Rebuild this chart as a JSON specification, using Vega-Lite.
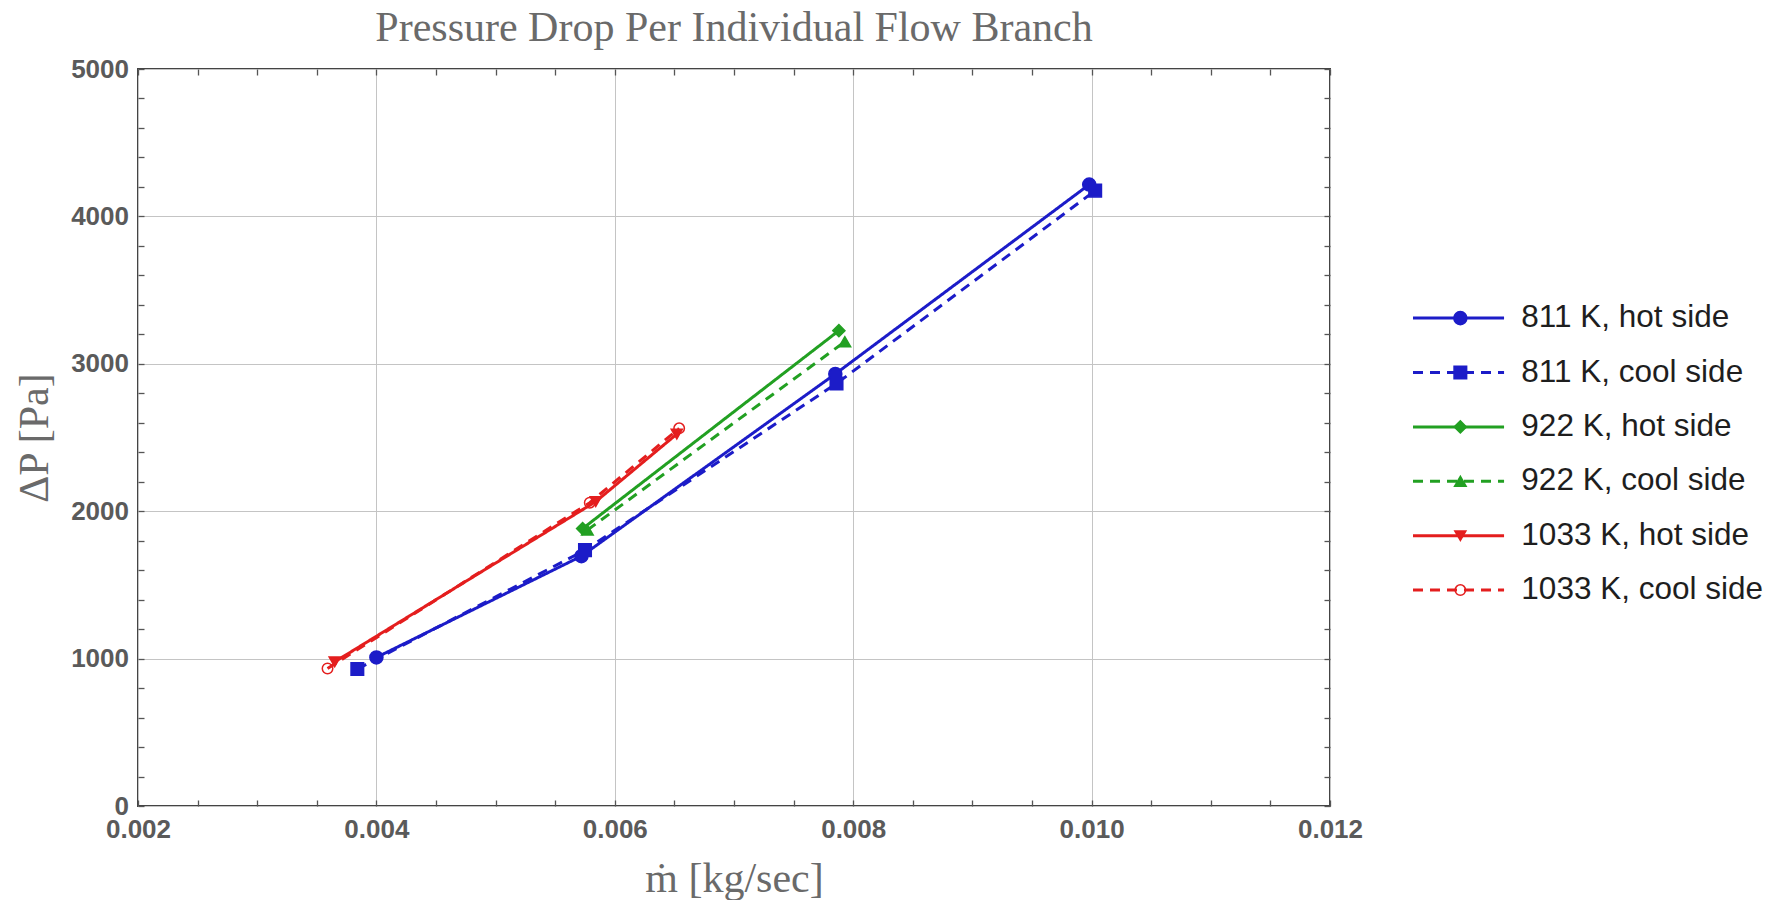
{
  "$schema": "https://vega.github.io/schema/vega-lite/v6.json",
  "background": "white",
  "padding": {"left": 12, "top": 6, "right": 5, "bottom": 0},
  "autosize": {"type": "pad"},
  "config": {"view": {"stroke": "#444444", "strokeWidth": 2}},
  "datasets": {
    "pts": [
      {"series": "811 K, hot side", "m": 0.00400, "dp": 1008},
      {"series": "811 K, hot side", "m": 0.00572, "dp": 1695},
      {"series": "811 K, hot side", "m": 0.00785, "dp": 2931},
      {"series": "811 K, hot side", "m": 0.00998, "dp": 4216},
      {"series": "811 K, cool side", "m": 0.00384, "dp": 929},
      {"series": "811 K, cool side", "m": 0.00575, "dp": 1736},
      {"series": "811 K, cool side", "m": 0.00786, "dp": 2866},
      {"series": "811 K, cool side", "m": 0.01003, "dp": 4175},
      {"series": "922 K, hot side", "m": 0.00573, "dp": 1882},
      {"series": "922 K, hot side", "m": 0.00788, "dp": 3225},
      {"series": "922 K, cool side", "m": 0.00577, "dp": 1872},
      {"series": "922 K, cool side", "m": 0.00793, "dp": 3150},
      {"series": "1033 K, hot side", "m": 0.00365, "dp": 978},
      {"series": "1033 K, hot side", "m": 0.00584, "dp": 2065},
      {"series": "1033 K, hot side", "m": 0.00652, "dp": 2523},
      {"series": "1033 K, cool side", "m": 0.00359, "dp": 933},
      {"series": "1033 K, cool side", "m": 0.00579, "dp": 2058},
      {"series": "1033 K, cool side", "m": 0.00654, "dp": 2562}
    ],
    "leg": [
      {"series": "811 K, hot side", "order": 1},
      {"series": "811 K, cool side", "order": 2},
      {"series": "922 K, hot side", "order": 3},
      {"series": "922 K, cool side", "order": 4},
      {"series": "1033 K, hot side", "order": 5},
      {"series": "1033 K, cool side", "order": 6}
    ]
  },
  "spacing": 83,
  "bounds": "flush",
  "hconcat": [
    {
      "width": 1192,
      "height": 737,
      "title": {"text": "Pressure Drop Per Individual Flow Branch", "font": "Liberation Serif", "fontSize": 42, "fontWeight": "normal", "color": "#6a6a6a", "anchor": "middle", "offset": 6},
      "data": {"name": "pts"},
      "resolve": {"axis": {"x": "independent", "y": "independent"}},
      "layer": [
        {
          "mark": {"type": "line", "strokeWidth": 3},
          "encoding": {
            "x": {"field": "m", "type": "quantitative", "scale": {"domain": [0.002, 0.012], "nice": false, "zero": false},
              "axis": {"orient": "bottom", "values": [0.002, 0.004, 0.006, 0.008, 0.010, 0.012], "format": ".3f", "grid": true, "gridColor": "#c4c4c4", "gridWidth": 1, "ticks": false, "domain": false, "labelFont": "Liberation Sans", "labelFontSize": 26, "labelFontWeight": "bold", "labelColor": "#5a5a5a", "labelPadding": 10, "labelFlush": false, "labelOverlap": false, "title": "ṁ [kg/sec]", "titleFont": "Liberation Serif", "titleFontSize": 42, "titleFontWeight": "normal", "titleColor": "#6a6a6a", "titlePadding": 16}},
            "y": {"field": "dp", "type": "quantitative", "scale": {"domain": [0, 5000], "nice": false},
              "axis": {"orient": "left", "values": [0, 1000, 2000, 3000, 4000, 5000], "format": "d", "grid": true, "gridColor": "#c4c4c4", "gridWidth": 1, "ticks": false, "domain": false, "labelFont": "Liberation Sans", "labelFontSize": 26, "labelFontWeight": "bold", "labelColor": "#5a5a5a", "labelPadding": 9.5, "labelFlush": false, "labelOverlap": false, "title": "ΔP [Pa]", "titleFont": "Liberation Serif", "titleFontSize": 42, "titleFontWeight": "normal", "titleColor": "#6a6a6a", "titlePadding": 14}},
            "color": {"field": "series", "type": "nominal", "legend": null,
              "scale": {"domain": ["811 K, hot side", "811 K, cool side", "922 K, hot side", "922 K, cool side", "1033 K, hot side", "1033 K, cool side"], "range": ["#1c1cc8", "#1c1cc8", "#22a022", "#22a022", "#e41e1e", "#e41e1e"]}},
            "strokeDash": {"field": "series", "type": "nominal", "legend": null,
              "scale": {"domain": ["811 K, hot side", "811 K, cool side", "922 K, hot side", "922 K, cool side", "1033 K, hot side", "1033 K, cool side"], "range": [[1, 0], [10, 7], [1, 0], [10, 7], [1, 0], [10, 7]]}}
          }
        },
        {
          "mark": {"type": "point", "filled": true, "strokeWidth": 1.5, "opacity": 1},
          "encoding": {
            "x": {"field": "m", "type": "quantitative",
              "axis": {"orient": "bottom", "values": [0.002, 0.0025, 0.003, 0.0035, 0.004, 0.0045, 0.005, 0.0055, 0.006, 0.0065, 0.007, 0.0075, 0.008, 0.0085, 0.009, 0.0095, 0.010, 0.0105, 0.011, 0.0115, 0.012], "labels": false, "grid": false, "domain": false, "ticks": true, "tickSize": -6, "tickColor": "#555555", "tickWidth": 1.3, "title": null}},
            "y": {"field": "dp", "type": "quantitative",
              "axis": {"orient": "left", "values": [0, 200, 400, 600, 800, 1000, 1200, 1400, 1600, 1800, 2000, 2200, 2400, 2600, 2800, 3000, 3200, 3400, 3600, 3800, 4000, 4200, 4400, 4600, 4800, 5000], "labels": false, "grid": false, "domain": false, "ticks": true, "tickSize": -6, "tickColor": "#555555", "tickWidth": 1.3, "title": null}},
            "shape": {"field": "series", "type": "nominal", "legend": null,
              "scale": {"domain": ["811 K, hot side", "811 K, cool side", "922 K, hot side", "922 K, cool side", "1033 K, hot side", "1033 K, cool side"], "range": ["circle", "square", "diamond", "triangle-up", "triangle-down", "circle"]}},
            "fill": {"field": "series", "type": "nominal", "legend": null,
              "scale": {"domain": ["811 K, hot side", "811 K, cool side", "922 K, hot side", "922 K, cool side", "1033 K, hot side", "1033 K, cool side"], "range": ["#1c1cc8", "#1c1cc8", "#22a022", "#22a022", "#e41e1e", "transparent"]}},
            "stroke": {"field": "series", "type": "nominal", "legend": null,
              "scale": {"domain": ["811 K, hot side", "811 K, cool side", "922 K, hot side", "922 K, cool side", "1033 K, hot side", "1033 K, cool side"], "range": ["#1c1cc8", "#1c1cc8", "#22a022", "#22a022", "#e41e1e", "#e41e1e"]}},
            "size": {"field": "series", "type": "nominal", "legend": null,
              "scale": {"domain": ["811 K, hot side", "811 K, cool side", "922 K, hot side", "922 K, cool side", "1033 K, hot side", "1033 K, cool side"], "range": [170, 110, 140, 120, 120, 170]}}
          }
        },
        {
          "mark": {"type": "point", "opacity": 0},
          "encoding": {
            "x": {"field": "m", "type": "quantitative",
              "axis": {"orient": "top", "values": [0.002, 0.0025, 0.003, 0.0035, 0.004, 0.0045, 0.005, 0.0055, 0.006, 0.0065, 0.007, 0.0075, 0.008, 0.0085, 0.009, 0.0095, 0.010, 0.0105, 0.011, 0.0115, 0.012], "labels": false, "grid": false, "domain": false, "ticks": true, "tickSize": -6, "tickColor": "#555555", "tickWidth": 1.3, "title": null}},
            "y": {"field": "dp", "type": "quantitative",
              "axis": {"orient": "right", "values": [0, 200, 400, 600, 800, 1000, 1200, 1400, 1600, 1800, 2000, 2200, 2400, 2600, 2800, 3000, 3200, 3400, 3600, 3800, 4000, 4200, 4400, 4600, 4800, 5000], "labels": false, "grid": false, "domain": false, "ticks": true, "tickSize": -6, "tickColor": "#555555", "tickWidth": 1.3, "title": null}}
          }
        }
      ]
    },
    {
      "width": 346,
      "height": 737,
      "view": {"stroke": null},
      "data": {"name": "leg"},
      "layer": [
        {
          "mark": {"type": "rule", "strokeWidth": 3},
          "encoding": {
            "x": {"datum": 0, "type": "quantitative", "scale": {"domain": [0, 3.8], "nice": false, "zero": false}, "axis": null},
            "x2": {"datum": 1},
            "y": {"field": "order", "type": "quantitative", "scale": {"domain": [-3.58, 9.97], "reverse": true, "nice": false, "zero": false}, "axis": null},
            "color": {"field": "series", "type": "nominal", "legend": null},
            "strokeDash": {"field": "series", "type": "nominal", "legend": null}
          }
        },
        {
          "mark": {"type": "point", "filled": true, "strokeWidth": 1.5, "opacity": 1},
          "encoding": {
            "x": {"datum": 0.52, "type": "quantitative"},
            "y": {"field": "order", "type": "quantitative"},
            "shape": {"field": "series", "type": "nominal", "legend": null},
            "fill": {"field": "series", "type": "nominal", "legend": null},
            "stroke": {"field": "series", "type": "nominal", "legend": null},
            "size": {"field": "series", "type": "nominal", "legend": null}
          }
        },
        {
          "mark": {"type": "text", "align": "left", "baseline": "middle", "font": "Liberation Sans", "fontSize": 31.5, "color": "#1e1e1e"},
          "encoding": {
            "x": {"datum": 1.19, "type": "quantitative"},
            "y": {"field": "order", "type": "quantitative"},
            "text": {"field": "series"}
          }
        }
      ]
    }
  ]
}
